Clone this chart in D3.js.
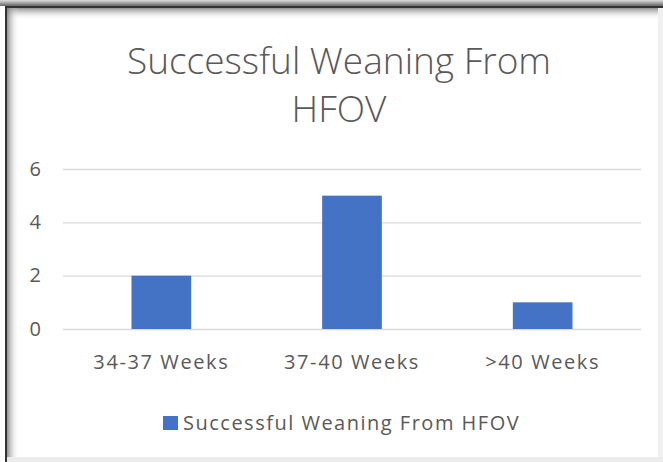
<!DOCTYPE html>
<html>
<head>
<meta charset="utf-8">
<script src="https://cdn.jsdelivr.net/npm/d3@7"></script>
<style>
    body { margin: 0; background: #fff; }
    text { font-family: "Open Sans", "DejaVu Sans", sans-serif; fill: #595959; }
</style>
</head>
<body>
<div id="chartDiv"></div>
<script>

// chart data
var categories = ["34-37 Weeks", "37-40 Weeks", ">40 Weeks"];
var values = [2, 5, 1];
var yTicks = [0, 2, 4, 6];
var seriesName = "Successful Weaning From HFOV";
var titleLines = ["Successful Weaning From", "HFOV"];

var W = 663, H = 462;

var margin = {top: 169, right: 22, bottom: 133, left: 63},
    width = W - margin.left - margin.right,
    height = H - margin.top - margin.bottom;

var svg = d3.select("#chartDiv").append("svg")
    .attr("width", W)
    .attr("height", H);

// frame with the shaded top / left edges
var defs = svg.append("defs");

var gTop = defs.append("linearGradient").attr("id", "shTop")
    .attr("x1", 0).attr("y1", 0).attr("x2", 0).attr("y2", 1);
gTop.append("stop").attr("offset", "0%").attr("stop-color", "#777").attr("stop-opacity", 0.8);
gTop.append("stop").attr("offset", "100%").attr("stop-color", "#fff").attr("stop-opacity", 0);

var gLeft = defs.append("linearGradient").attr("id", "shLeft")
    .attr("x1", 0).attr("y1", 0).attr("x2", 1).attr("y2", 0);
gLeft.append("stop").attr("offset", "0%").attr("stop-color", "#777").attr("stop-opacity", 0.8);
gLeft.append("stop").attr("offset", "100%").attr("stop-color", "#fff").attr("stop-opacity", 0);

var gOut = defs.append("linearGradient").attr("id", "shOut")
    .attr("x1", 0).attr("y1", 0).attr("x2", 0).attr("y2", 1);
gOut.append("stop").attr("offset", "0%").attr("stop-color", "#ddd");
gOut.append("stop").attr("offset", "100%").attr("stop-color", "#666");

svg.append("rect").attr("x", 0).attr("y", 0).attr("width", W).attr("height", 6)
    .style("fill", "url(#shOut)");
svg.append("rect").attr("x", 5).attr("y", 6).attr("width", W - 5).attr("height", 2)
    .style("fill", "#333");
svg.append("rect").attr("x", 5).attr("y", 6).attr("width", 2).attr("height", H - 6)
    .style("fill", "#333");
svg.append("rect").attr("x", 7).attr("y", 8).attr("width", W - 7).attr("height", 12)
    .style("fill", "url(#shTop)");
svg.append("rect").attr("x", 7).attr("y", 8).attr("width", 12).attr("height", H - 8)
    .style("fill", "url(#shLeft)");
svg.append("rect").attr("x", W - 5).attr("y", 8).attr("width", 5).attr("height", H - 8)
    .style("fill", "#f0f0f0");
svg.append("rect").attr("x", 7).attr("y", H - 5).attr("width", W - 7).attr("height", 5)
    .style("fill", "#ececec");

// title
svg.append("g").selectAll("text")
    .data(titleLines)
    .enter().append("text")
    .attr("x", 339)
    .attr("y", function (d, i) {
        return 74 + i * 48;
    })
    .style("text-anchor", "middle")
    .style("font-size", "37px")
    .style("font-weight", 300)
    .text(function (d) {
        return d;
    });

var g = svg.append("g")
    .attr("transform", "translate(" + margin.left + "," + margin.top + ")");

var x = d3.scaleBand()
    .domain(categories)
    .range([3, width - 3])
    .paddingInner(0.687)
    .paddingOuter(0.3435);

var y = d3.scaleLinear()
    .domain([0, 6])
    .range([height, 0]);

// gridlines
var yAxis = d3.axisLeft(y)
    .tickValues(yTicks)
    .tickFormat(d3.format("d"))
    .tickSize(-width)
    .tickPadding(22);

g.append("g")
    .attr("class", "y axis")
    .call(yAxis)
    .call(function (sel) {
        sel.select(".domain").remove();
        sel.selectAll(".tick line").style("stroke", "#d9d9d9").style("stroke-width", 1.3);
        sel.selectAll(".tick text")
            .style("font-size", "20px")
            .style("fill", "#595959")
            .attr("dy", "0.3em");
    });

// bars
g.selectAll(".bar")
    .data(values)
    .enter().append("rect")
    .attr("class", "bar")
    .attr("x", function (d, i) {
        return x(categories[i]);
    })
    .attr("y", function (d) {
        return y(d);
    })
    .attr("width", x.bandwidth())
    .attr("height", function (d) {
        return height - y(d);
    })
    .style("fill", "#4472C4");

// category labels
var xAxis = d3.axisBottom(x).tickSize(0).tickPadding(26);

g.append("g")
    .attr("class", "x axis")
    .attr("transform", "translate(0," + height + ")")
    .call(xAxis)
    .call(function (sel) {
        sel.select(".domain").remove();
        sel.selectAll(".tick text")
            .style("font-size", "20px")
            .style("letter-spacing", "1.6px")
            .style("fill", "#595959");
    });

// legend
var legend = svg.append("g")
    .attr("transform", "translate(163,416)");

legend.append("rect")
    .attr("width", 15)
    .attr("height", 14)
    .style("fill", "#4472C4");

legend.append("text")
    .attr("x", 20)
    .attr("y", 7)
    .attr("dy", "0.35em")
    .style("font-size", "20px")
    .style("letter-spacing", "1.5px")
    .text(seriesName);

</script>
</body>
</html>
